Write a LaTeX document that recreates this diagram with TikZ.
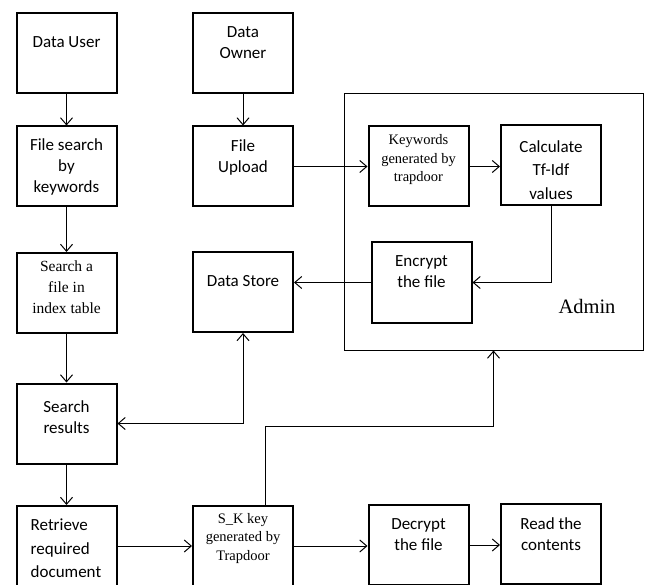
\documentclass[tikz,border=0pt]{standalone}
\usepackage{fontspec}
\setmainfont{Carlito}
\newfontfamily\timesfont{Liberation Serif}
\usetikzlibrary{positioning,arrows.meta}

\tikzset{
  >={Straight Barb[length=7pt,width=12pt]},
  box/.style={draw, line width=2pt, minimum width=100pt, minimum height=80pt, inner sep=0pt},
  txt/.style={inner sep=0pt, align=center, font=\fontsize{17}{21}\selectfont},
  srf/.style={inner sep=0pt, align=center, font=\timesfont\fontsize{15.5}{21}\selectfont},
  srfsmall/.style={srf, font=\timesfont\fontsize{14.5}{18.5}\selectfont},
  arr/.style={line width=1pt, ->},
  dblarr/.style={line width=1pt, <->},
}

\begin{document}
\begin{tikzpicture}[x=1pt,y=-1pt]
  \useasboundingbox (0,0) rectangle (645,585);

  % Admin area
  \node[draw, line width=1pt, minimum width=299pt, minimum height=256pt, inner sep=0pt] (admin) at (493.5,222) {};
  \node[inner sep=0pt, font=\timesfont\fontsize{20.5}{24}\selectfont] (adminlbl) at (587,306) {Admin};

  % Boxes, user side
  \node[box] (user) at (66.5,53) {};
  \node[box] (search) at (66.5,166.5) {};
  \node[box] (index) at (66.5,293) {};
  \node[box] (results) at (66.5,423.5) {};
  \node[box] (retrieve) at (66.5,546) {};

  % Boxes, owner side
  \node[box] (owner) at (243,53) {};
  \node[box] (upload) at (243,166.5) {};
  \node[box] (store) at (243,292) {};
  \node[box] (sk) at (243,546) {};

  % Boxes, admin and reading
  \node[box] (keywords) at (418.5,166.5) {};
  \node[box] (calc) at (551,165) {};
  \node[box] (encrypt) at (421.5,282.5) {};
  \node[box] (decrypt) at (418.5,545) {};
  \node[box] (read) at (551,544) {};

  % Texts
  \node[txt, below=24pt of user.north] (usertxt) {Data User};
  \node[txt, below=13pt of search.north] (searchtxt) {File search\\by\\keywords};
  \node[srf, below=9pt of index.north] (indextxt) {Search a\\file in\\index table};
  \node[txt, below=18pt of results.north] (resultstxt) {Search\\results};
  \node[txt, align=left, font=\fontsize{17}{23.5}\selectfont, below right=14pt and 15pt of retrieve.north west] (retrievetxt) {Retrieve\\required\\document};
  \node[txt, below=14pt of owner.north] (ownertxt) {Data\\Owner};
  \node[txt, below=14pt of upload.north] (uploadtxt) {File\\Upload};
  \node[txt, below=24pt of store.north] (storetxt) {Data Store};
  \node[srfsmall, below=8pt of sk.north] (sktxt) {S\_K key\\generated by\\Trapdoor};
  \node[srfsmall, below=9pt of keywords.north] (keywordstxt) {Keywords\\generated by\\trapdoor};
  \node[txt, font=\fontsize{17}{23.5}\selectfont, below=16pt of calc.north] (calctxt) {Calculate\\Tf-Idf\\values};
  \node[txt, below=14pt of encrypt.north] (encrypttxt) {Encrypt\\the file};
  \node[txt, below=14pt of decrypt.north] (decrypttxt) {Decrypt\\the file};
  \node[txt, below=14pt of read.north] (readtxt) {Read the\\contents};

  % Connectors
  \draw[arr] (user) -- (search);
  \draw[arr] (search) -- (index);
  \draw[arr] (index) -- (results);
  \draw[arr] (results) -- (retrieve);
  \draw[arr] (owner) -- (upload);
  \draw[arr] (upload) -- (keywords);
  \draw[arr] (keywords.east) -- (keywords.east -| calc.west);
  \draw[arr] (calc.south) |- (encrypt.east);
  \draw[arr] (encrypt.west) -- (encrypt.west -| store.east);
  \draw[dblarr] (store.south) |- (results.east);
  \draw[arr] ([xshift=22pt]sk.north) -- ++(0,-79) -| (admin.south);
  \draw[arr] (retrieve) -- (sk);
  \draw[arr] (sk.east) -- (sk.east -| decrypt.west);
  \draw[arr] (decrypt.east) -- (decrypt.east -| read.west);
\end{tikzpicture}
\end{document}
